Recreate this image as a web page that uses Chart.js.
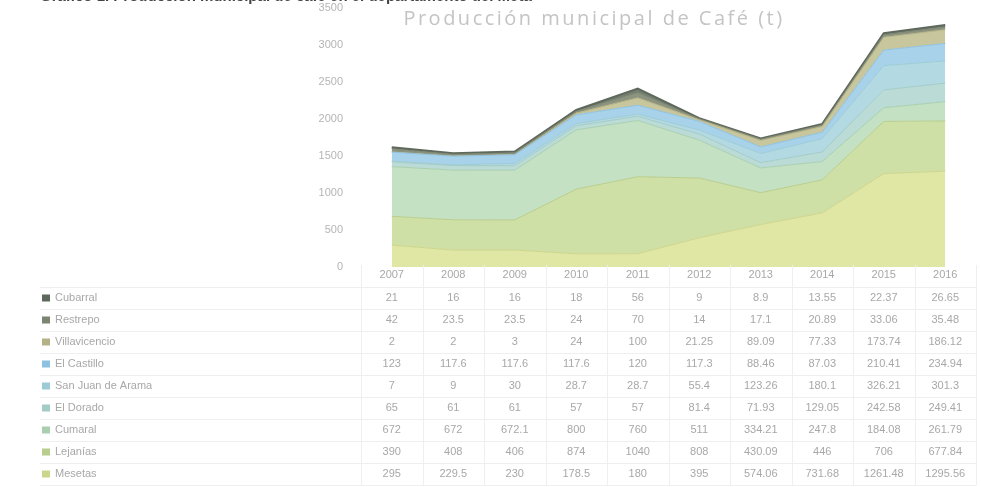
<!DOCTYPE html>
<html>
<head>
<meta charset="utf-8">
<script src="https://cdn.jsdelivr.net/npm/chart.js@4.4.1/dist/chart.umd.min.js"></script>
<style>
  html, body { margin: 0; padding: 0; background: #fff; }
  #wrap { position: relative; width: 981px; height: 487px; overflow: hidden; }
  #cafeChart { display: block; }
  #topline { position: absolute; left: 40px; top: -13px; font: bold 15px "Liberation Sans", sans-serif; color: #444; white-space: nowrap; }
</style>
</head>
<body>
<div id="wrap">
  <div id="topline">Gráfico 1. Producción municipal de café en el departamento del Meta</div>
  <canvas id="cafeChart" width="981" height="487"></canvas>
</div>
<script>
// Años (categorías)
const years = ['2007', '2008', '2009', '2010', '2011', '2012', '2013', '2014', '2015', '2016'];

// Producción por municipio (t)
const cubarral      = [21, 16, 16, 18, 56, 9, 8.9, 13.55, 22.37, 26.65];
const restrepo      = [42, 23.5, 23.5, 24, 70, 14, 17.1, 20.89, 33.06, 35.48];
const villavicencio = [2, 2, 3, 24, 100, 21.25, 89.09, 77.33, 173.74, 186.12];
const elCastillo    = [123, 117.6, 117.6, 117.6, 120, 117.3, 88.46, 87.03, 210.41, 234.94];
const sanJuanArama  = [7, 9, 30, 28.7, 28.7, 55.4, 123.26, 180.1, 326.21, 301.3];
const elDorado      = [65, 61, 61, 57, 57, 81.4, 71.93, 129.05, 242.58, 249.41];
const cumaral       = [672, 672, 672.1, 800, 760, 511, 334.21, 247.8, 184.08, 261.79];
const lejanias      = [390, 408, 406, 874, 1040, 808, 430.09, 446, 706, 677.84];
const mesetas       = [295, 229.5, 230, 178.5, 180, 395, 574.06, 731.68, 1261.48, 1295.56];

const yTicks = [0, 500, 1000, 1500, 2000, 2500, 3000, 3500];

// de abajo hacia arriba en el apilado
const series = [
    { label: 'Mesetas', data: mesetas, color: '#e0e6a4', line: '#cdd58c' },
    { label: 'Lejanías', data: lejanias, color: '#cfe0a6', line: '#b8cd8e' },
    { label: 'Cumaral', data: cumaral, color: '#c4e1c4', line: '#a9cfb0' },
    { label: 'El Dorado', data: elDorado, color: '#badbd6', line: '#a3cbc8' },
    { label: 'San Juan de Arama', data: sanJuanArama, color: '#b3dae2', line: '#9ccbd6' },
    { label: 'El Castillo', data: elCastillo, color: '#a8d2ea', line: '#8fc2e0' },
    { label: 'Villavicencio', data: villavicencio, color: '#c8c69c', line: '#b3b186' },
    { label: 'Restrepo', data: restrepo, color: '#8c9480', line: '#7d8572' },
    { label: 'Cubarral', data: cubarral, color: '#747e71', line: '#5e685b' }
];

// Title and data table under the plot
const tablePlugin = {
    id: 'tablePlugin',
    afterDraw(chart) {
        const ctx = chart.ctx;
        const x = chart.scales.x;
        const area = chart.chartArea;
        const colW = x.getPixelForValue(1) - x.getPixelForValue(0);
        const rowH = 22;
        const headTop = area.bottom - 2;
        const rowsTop = area.bottom + 20;

        ctx.save();
        // title
        ctx.fillStyle = '#c4c4c4';
        ctx.font = '20px "Open Sans", sans-serif';
        ctx.letterSpacing = '2.5px';
        ctx.textAlign = 'center';
        ctx.textBaseline = 'middle';
        ctx.fillText('Producción municipal de Café (t)', 594, 19);
        ctx.letterSpacing = '0px';

        // grid lines of the table
        ctx.strokeStyle = '#efefef';
        ctx.lineWidth = 1;
        const tableBottom = rowsTop + rowH * 9;
        for (let i = 0; i <= years.length; i++) {
            const px = Math.round(area.left + i * colW) + 0.5;
            ctx.beginPath();
            ctx.moveTo(px, headTop);
            ctx.lineTo(px, tableBottom);
            ctx.stroke();
        }
        for (let r = 0; r <= 9; r++) {
            const py = Math.round(rowsTop + r * rowH) + 0.5;
            ctx.beginPath();
            ctx.moveTo(40, py);
            ctx.lineTo(area.right, py);
            ctx.stroke();
        }

        ctx.font = '11px "Liberation Sans", sans-serif';
        ctx.fillStyle = '#a8a8a8';
        // header
        years.forEach((y, i) => {
            ctx.fillText(y, x.getPixelForValue(i), area.bottom + 8);
        });
        // rows: top of stack first
        const rows = series.slice().reverse();
        rows.forEach((s, r) => {
            const cy = rowsTop + rowH * r + rowH / 2;
            ctx.fillStyle = s.line;
            ctx.fillRect(42, cy - 3.5, 8, 7);
            ctx.fillStyle = '#a8a8a8';
            ctx.textAlign = 'left';
            ctx.fillText(s.label, 55, cy);
            ctx.textAlign = 'center';
            s.data.forEach((v, i) => {
                ctx.fillText(String(v), x.getPixelForValue(i), cy);
            });
        });
        ctx.restore();
    }
};

new Chart('cafeChart', {
    type: 'line',
    data: {
        labels: years,
        datasets: series.map((s, i) => ({
            label: s.label,
            data: s.data,
            backgroundColor: s.color,
            borderColor: s.line,
            borderWidth: i === series.length - 1 ? 2 : 1,
            fill: i === 0 ? 'origin' : '-1',
            pointRadius: 0,
            pointHoverRadius: 0,
            tension: 0
        }))
    },
    options: {
        responsive: false,
        animation: false,
        layout: { autoPadding: false, padding: { left: 0, right: 5, top: 8, bottom: 220 } },
        plugins: {
            legend: { display: false },
            tooltip: { enabled: false }
        },
        scales: {
            x: {
                display: false,
                offset: true
            },
            y: {
                stacked: true,
                min: 0,
                max: 3500,
                afterBuildTicks(scale) {
                    scale.ticks = yTicks.map(v => ({ value: v }));
                },
                afterFit(scale) {
                    scale.width = 361;
                    scale.paddingTop = 0;
                    scale.paddingBottom = 0;
                },
                grid: { display: false },
                border: { display: false },
                ticks: {
                    color: '#b5b5b5',
                    font: { size: 11, family: 'Liberation Sans' },
                    padding: 10,
                    callback: v => String(v)
                }
            }
        }
    },
    plugins: [tablePlugin]
});
</script>
</body>
</html>
